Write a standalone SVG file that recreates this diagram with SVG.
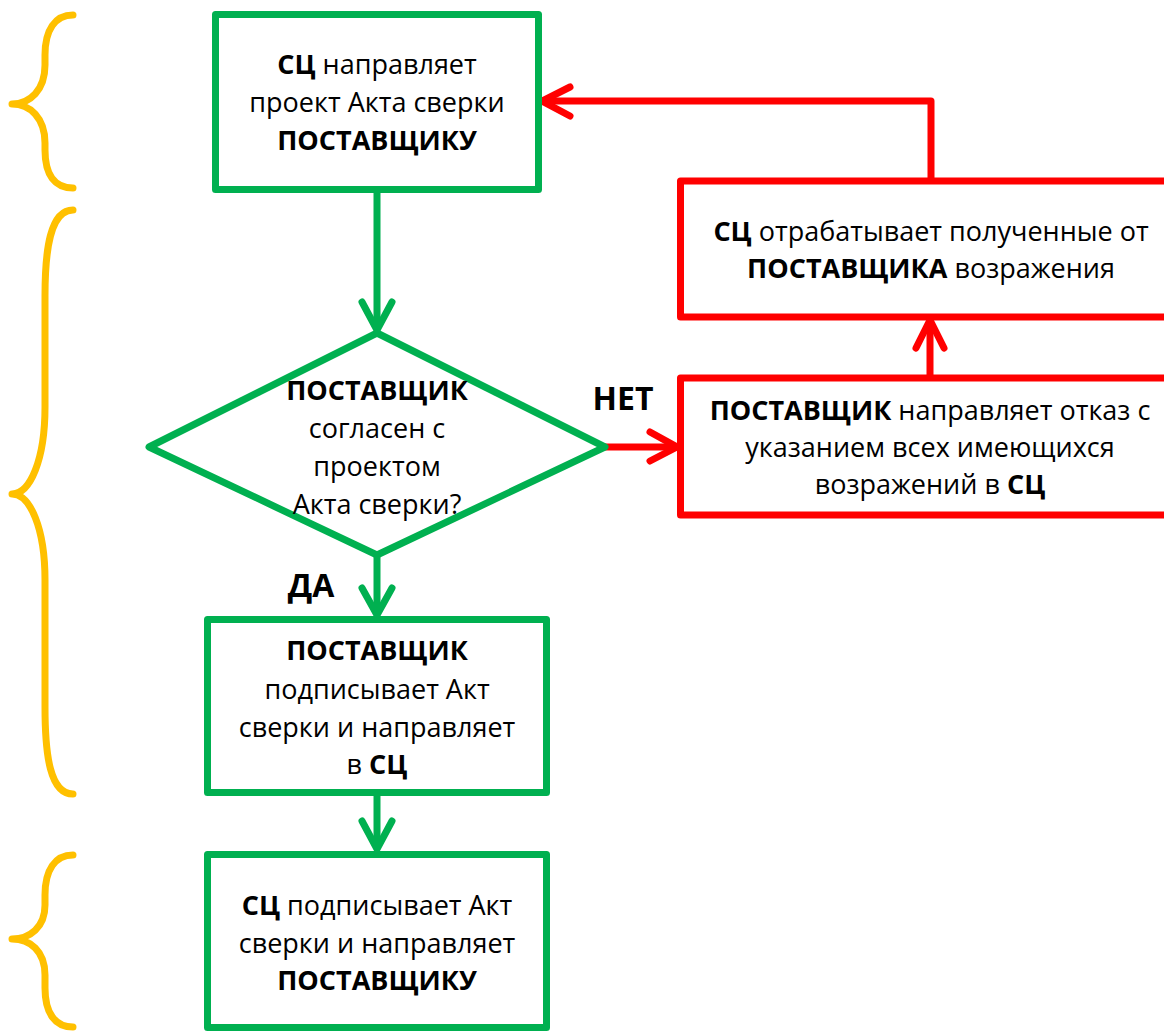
<svg xmlns="http://www.w3.org/2000/svg" width="1164" height="1031" viewBox="0 0 1164 1031">
  <style>
    .g { fill: #ffffff; stroke: #00B050; stroke-width: 7; stroke-linejoin: round; }
    .r { fill: #ffffff; stroke: #FF0000; stroke-width: 7; stroke-linejoin: round; }
    .cg { fill: none; stroke: #00B050; stroke-width: 7; stroke-linecap: round; stroke-linejoin: miter; }
    .cr { fill: none; stroke: #FF0000; stroke-width: 7; stroke-linecap: round; stroke-linejoin: miter; }
    .lg { fill: none; stroke: #00B050; stroke-width: 7; }
    .lr { fill: none; stroke: #FF0000; stroke-width: 7; }
    .brace { fill: none; stroke: #FFC000; stroke-width: 7; stroke-linecap: round; stroke-linejoin: round; }
    text { font-family: "Open Sans", "Noto Sans", "DejaVu Sans", sans-serif; font-size: 27px; fill: #000000; text-anchor: middle; }
    .b { font-weight: bold; }
    .lbl { font-size: 32px; font-weight: bold; }
  </style>

  <g id="braces">
    <path class="brace" d="M73,15 C55,15 45,30 45,55 L45,65 C45,90 30,104 12,104 C30,104 45,118 45,143 L45,150 C45,175 55,188 73,188"/>
    <path class="brace" d="M73,210 C50,210 45,250 45,296 L45,407 C45,460 30,494 12,494 C30,494 45,528 45,580 L45,707 C45,755 50,794 73,794"/>
    <path class="brace" d="M73,855 C55,855 45,870 45,895 L45,905 C45,927 30,939 12,939 C30,939 45,951 45,975 L45,988 C45,1013 55,1027 73,1027"/>
  </g>

  <g id="connectors">
    <line class="lg" x1="377" y1="190" x2="377" y2="330"/>
    <polyline class="cg" points="362,302 377,330 392,302"/>
    <line class="lg" x1="377" y1="555" x2="377" y2="615"/>
    <polyline class="cg" points="362,588 377,615 392,588"/>
    <line class="lg" x1="377" y1="793" x2="377" y2="849"/>
    <polyline class="cg" points="362,821 377,849 392,821"/>
    <line class="lr" x1="605" y1="447" x2="677" y2="447"/>
    <polyline class="cr" points="650,432 677,447 650,461"/>
    <line class="lr" x1="930" y1="378" x2="930" y2="320"/>
    <polyline class="cr" points="916,348 930,320 944,348"/>
    <polyline class="lr" points="931,181 931,101 542,101" stroke-linejoin="round"/>
    <polyline class="cr" points="570,87 542,101 570,116"/>
  </g>

  <g id="node-send">
    <rect class="g" x="215.5" y="14.5" width="323" height="175"/>
    <text x="377" y="74"><tspan class="b">СЦ</tspan> направляет</text>
    <text x="377" y="112">проект Акта сверки</text>
    <text x="377" y="150" class="b">ПОСТАВЩИКУ</text>
  </g>

  <g id="node-decision">
    <polygon class="g" points="377,333 605,447 377,555 149,447" stroke-linejoin="miter"/>
    <text x="377" y="400" class="b">ПОСТАВЩИК</text>
    <text x="377" y="438">согласен с</text>
    <text x="377" y="476">проектом</text>
    <text x="377" y="514">Акта сверки?</text>
  </g>

  <g id="node-supplier-signs">
    <rect class="g" x="207.5" y="619.5" width="339" height="173"/>
    <text x="377" y="660" class="b">ПОСТАВЩИК</text>
    <text x="377" y="699">подписывает Акт</text>
    <text x="377" y="737">сверки и направляет</text>
    <text x="377" y="774">в <tspan class="b">СЦ</tspan></text>
  </g>

  <g id="node-sc-signs">
    <rect class="g" x="207.5" y="854.5" width="339" height="173"/>
    <text x="377" y="915"><tspan class="b">СЦ</tspan> подписывает Акт</text>
    <text x="377" y="953">сверки и направляет</text>
    <text x="377" y="990" class="b">ПОСТАВЩИКУ</text>
  </g>

  <g id="node-sc-processes">
    <rect class="r" x="680.5" y="181" width="502" height="136"/>
    <text x="931" y="241"><tspan class="b">СЦ</tspan> отрабатывает полученные от</text>
    <text x="931" y="278"><tspan class="b">ПОСТАВЩИКА</tspan> возражения</text>
  </g>

  <g id="node-refusal">
    <rect class="r" x="680.5" y="378" width="502" height="137"/>
    <text x="930" y="420"><tspan class="b">ПОСТАВЩИК</tspan> направляет отказ с</text>
    <text x="930" y="457">указанием всех имеющихся</text>
    <text x="930" y="494">возражений в <tspan class="b">СЦ</tspan></text>
  </g>

  <g id="labels">
    <text x="623" y="410" class="lbl">НЕТ</text>
    <text x="311" y="597" class="lbl">ДА</text>
  </g>
</svg>
